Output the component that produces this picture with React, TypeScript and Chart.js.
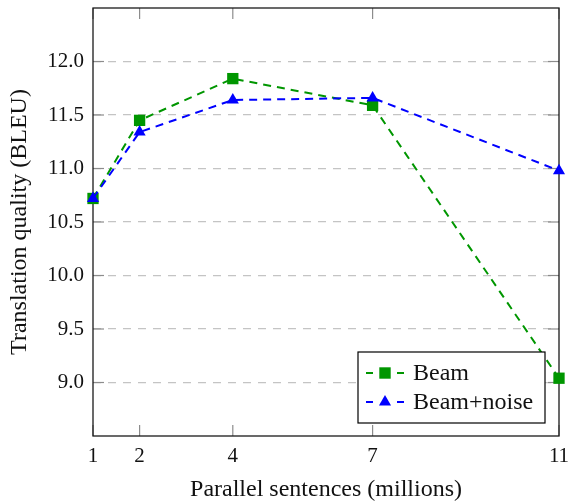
import { useEffect, useRef } from "react";
import { Chart, registerables } from "chart.js";

Chart.register(...registerables);

const sentences = [1, 2, 4, 7, 11];
const beam = [10.72, 11.45, 11.84, 11.59, 9.04];
const beamNoise = [10.72, 11.34, 11.64, 11.66, 10.98];
const xTicks = [1, 2, 4, 7, 11];
const yTicks = [9.0, 9.5, 10.0, 10.5, 11.0, 11.5, 12.0];
const seriesNames = ["Beam", "Beam+noise"];
const xTitle = "Parallel sentences (millions)";
const yTitle = "Translation quality (BLEU)";

const FONT = "'Liberation Serif', 'DejaVu Serif', serif";
const GREEN = "#009600";
const BLUE = "#0000ff";

function drawMarker(ctx: CanvasRenderingContext2D, kind: string, x: number, y: number, color: string) {
  ctx.fillStyle = color;
  ctx.beginPath();
  if (kind === "rect") {
    const s = 5.7;
    ctx.rect(x - s, y - s, 2 * s, 2 * s);
  } else {
    const r = 7;
    ctx.moveTo(x, y - r);
    ctx.lineTo(x + r * Math.sin((2 * Math.PI) / 3), y - r * Math.cos((2 * Math.PI) / 3));
    ctx.lineTo(x + r * Math.sin((4 * Math.PI) / 3), y - r * Math.cos((4 * Math.PI) / 3));
    ctx.closePath();
  }
  ctx.fill();
}

const framePlugin = {
  id: "frameAndLegend",
  beforeDatasetsDraw(chart: any) {
    const { ctx, chartArea: a, scales } = chart;
    ctx.save();
    ctx.strokeStyle = "#8c8c8c";
    ctx.lineWidth = 1.2;
    const tl = 11;
    const seg = (x1: number, y1: number, x2: number, y2: number) => {
      ctx.beginPath();
      ctx.moveTo(x1, y1);
      ctx.lineTo(x2, y2);
      ctx.stroke();
    };
    for (const v of xTicks) {
      const px = scales.x.getPixelForValue(v);
      seg(px, a.bottom, px, a.bottom - tl);
      seg(px, a.top, px, a.top + tl);
    }
    for (const v of yTicks) {
      const py = scales.y.getPixelForValue(v);
      seg(a.left, py, a.left + tl, py);
      seg(a.right, py, a.right - tl, py);
    }
    ctx.strokeStyle = "#1a1a1a";
    ctx.lineWidth = 1.3;
    ctx.strokeRect(a.left, a.top, a.right - a.left, a.bottom - a.top);
    ctx.restore();
  },
  afterDatasetsDraw(chart: any) {
    const { ctx, chartArea: a } = chart;
    const w = 187;
    const h = 71;
    const x0 = a.right - 14 - w;
    const y0 = a.bottom - 13 - h;
    ctx.save();
    ctx.fillStyle = "#ffffff";
    ctx.fillRect(x0, y0, w, h);
    ctx.strokeStyle = "#000000";
    ctx.lineWidth = 1.2;
    ctx.strokeRect(x0, y0, w, h);
    const rows = [
      { name: seriesNames[0], color: GREEN, kind: "rect", y: y0 + 21 },
      { name: seriesNames[1], color: BLUE, kind: "triangle", y: y0 + 50 },
    ];
    for (const r of rows) {
      ctx.strokeStyle = r.color;
      ctx.lineWidth = 2;
      ctx.beginPath();
      ctx.moveTo(x0 + 8, r.y);
      ctx.lineTo(x0 + 15, r.y);
      ctx.moveTo(x0 + 39, r.y);
      ctx.lineTo(x0 + 46, r.y);
      ctx.stroke();
      drawMarker(ctx, r.kind, x0 + 27, r.y, r.color);
      ctx.fillStyle = "#111111";
      ctx.font = `24px ${FONT}`;
      ctx.textBaseline = "middle";
      ctx.textAlign = "left";
      ctx.fillText(r.name, x0 + 55, r.y + 1);
    }
    ctx.restore();
  },
};

export default function App() {
  const ref = useRef<HTMLCanvasElement | null>(null);

  useEffect(() => {
    document.body.style.margin = "0";
    const canvas = ref.current;
    if (!canvas) return;
    const chart = new Chart(canvas, {
      type: "line",
      data: {
        datasets: [
          {
            label: seriesNames[0],
            data: sentences.map((x, i) => ({ x, y: beam[i] })),
            borderColor: GREEN,
            backgroundColor: GREEN,
            borderWidth: 2,
            borderDash: [8, 6],
            pointStyle: "rect",
            pointRadius: 8,
            pointBorderWidth: 0,
            pointBackgroundColor: GREEN,
            tension: 0,
            clip: false as any,
            order: 1,
          },
          {
            label: seriesNames[1],
            data: sentences.map((x, i) => ({ x, y: beamNoise[i] })),
            borderColor: BLUE,
            backgroundColor: BLUE,
            borderWidth: 2,
            borderDash: [8, 6],
            pointStyle: "triangle",
            pointRadius: 7,
            pointBorderWidth: 0,
            pointBackgroundColor: BLUE,
            tension: 0,
            clip: false as any,
            order: 0,
          },
        ],
      },
      options: {
        responsive: false,
        animation: false,
        events: [],
        layout: { padding: { top: 6, right: 9, left: 0, bottom: 0 } },
        plugins: {
          legend: { display: false },
          tooltip: { enabled: false },
        },
        scales: {
          x: {
            type: "linear",
            min: 1,
            max: 11,
            afterBuildTicks: (s: any) => {
              s.ticks = xTicks.map((v) => ({ value: v }));
            },
            afterFit: (s: any) => {
              s.height = 67;
              s.paddingLeft = 0;
              s.paddingRight = 0;
              s.paddingTop = 0;
              s.paddingBottom = 0;
            },
            grid: { display: false, drawTicks: false },
            border: { display: false },
            ticks: {
              autoSkip: false,
              maxRotation: 0,
              padding: 8,
              color: "#111111",
              font: { family: FONT, size: 21 },
              callback: (v: any) => String(v),
            },
            title: {
              display: true,
              text: xTitle,
              color: "#111111",
              font: { family: FONT, size: 24, lineHeight: 1.1 },
              padding: { top: 0, bottom: 0 },
            },
          },
          y: {
            type: "linear",
            min: 8.5,
            max: 12.5,
            afterBuildTicks: (s: any) => {
              s.ticks = yTicks.map((v) => ({ value: v }));
            },
            afterFit: (s: any) => {
              s.width = 93;
              s.paddingLeft = 0;
              s.paddingRight = 0;
              s.paddingTop = 0;
              s.paddingBottom = 0;
            },
            grid: { display: true, drawTicks: false, color: "#c4c4c4", lineWidth: 1.3 },
            border: { display: false, dash: [8, 7] },
            ticks: {
              autoSkip: false,
              padding: 9,
              color: "#111111",
              font: { family: FONT, size: 21 },
              callback: (v: any) => Number(v).toFixed(1),
            },
            title: {
              display: true,
              text: yTitle,
              color: "#111111",
              font: { family: FONT, size: 24, lineHeight: 1.1 },
              padding: { top: 7, bottom: 0 },
            },
          },
        },
      },
      plugins: [framePlugin],
    });
    return () => chart.destroy();
  }, []);

  return (
    <div style={{ width: 568, height: 503, position: "relative" }}>
      <canvas ref={ref} width={568} height={503} style={{ display: "block" }} />
    </div>
  );
}
